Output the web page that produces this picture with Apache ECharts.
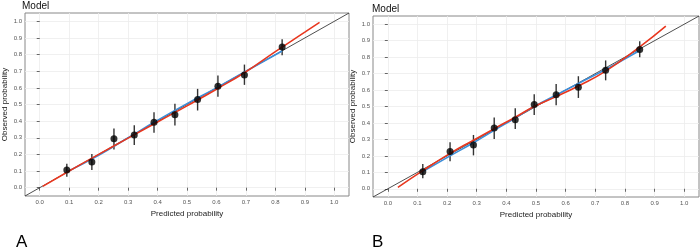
<!DOCTYPE html>
<html>
<head>
<meta charset="utf-8">
<script src="https://cdn.jsdelivr.net/npm/echarts@6/dist/echarts.min.js"></script>
<style>
html,body{margin:0;padding:0;background:#fff;}
#chart{width:700px;height:247px;}
</style>
</head>
<body>
<div id="chart"></div>
<script>
// 刻度
var tickVals = [0, 0.1, 0.2, 0.3, 0.4, 0.5, 0.6, 0.7, 0.8, 0.9, 1.0];

// 面板A：分组点、置信区间
var predA = [0.092, 0.177, 0.252, 0.321, 0.388, 0.459, 0.536, 0.605, 0.695, 0.823];
var obsA  = [0.106, 0.154, 0.294, 0.316, 0.394, 0.438, 0.530, 0.610, 0.678, 0.846];
var loA   = [0.066, 0.106, 0.230, 0.256, 0.330, 0.374, 0.464, 0.546, 0.618, 0.796];
var hiA   = [0.144, 0.202, 0.356, 0.376, 0.454, 0.504, 0.594, 0.674, 0.740, 0.892];
// 面板A：蓝线、红线
var blueAx = [0.092, 0.2, 0.3, 0.4, 0.5, 0.6, 0.7, 0.823];
var blueAy = [0.095, 0.195, 0.3, 0.405, 0.505, 0.6, 0.7, 0.822];
var redAx  = [0.01, 0.1, 0.2, 0.3, 0.4, 0.5, 0.6, 0.7, 0.8, 0.9, 0.95];
var redAy  = [0.008, 0.1, 0.2, 0.298, 0.395, 0.492, 0.592, 0.697, 0.818, 0.935, 0.994];

// 面板B
var predB = [0.118, 0.210, 0.289, 0.359, 0.430, 0.494, 0.568, 0.643, 0.735, 0.850];
var obsB  = [0.103, 0.226, 0.266, 0.369, 0.420, 0.512, 0.572, 0.617, 0.720, 0.847];
var loB   = [0.064, 0.167, 0.203, 0.302, 0.363, 0.448, 0.508, 0.552, 0.659, 0.799];
var hiB   = [0.151, 0.282, 0.327, 0.433, 0.490, 0.575, 0.637, 0.684, 0.780, 0.897];
var blueBx = [0.118, 0.21, 0.289, 0.359, 0.43, 0.494, 0.568, 0.643, 0.735, 0.85];
var blueBy = [0.105, 0.2, 0.28, 0.355, 0.43, 0.5, 0.57, 0.64, 0.725, 0.84];
var redBx  = [0.034, 0.118, 0.21, 0.289, 0.359, 0.43, 0.494, 0.568, 0.643, 0.735, 0.85, 0.938];
var redBy  = [0.008, 0.11, 0.215, 0.295, 0.365, 0.435, 0.5, 0.56, 0.625, 0.715, 0.862, 0.988];

function zip(a, b){
	var r = [];
	for (var i = 0; i < a.length; i++) r.push([a[i], b[i]]);
	return r;
}
function zip3(a, b, c){
	var r = [];
	for (var i = 0; i < a.length; i++) r.push([a[i], b[i], c[i]]);
	return r;
}

function axis(idx, name, gap){
	return {
		type: 'value', gridIndex: idx,
		min: -0.05, max: 1.05, interval: 0.05,
		name: name, nameLocation: 'middle', nameGap: gap,
		nameTextStyle: {color: '#222', fontSize: 8, fontFamily: 'Liberation Sans'},
		axisLine: {show: false},
		axisTick: {show: true, customValues: tickVals, length: 3, lineStyle: {color: '#444', width: 0.8}},
		axisLabel: {
			customValues: tickVals, fontSize: 6, color: '#555', margin: 3,
			fontFamily: 'Liberation Sans',
			formatter: function(v){ return v.toFixed(1); }
		},
		splitLine: {show: true, lineStyle: {color: '#ececec', width: 0.8}}
	};
}

function errBars(idx, data){
	return {
		type: 'custom', xAxisIndex: idx, yAxisIndex: idx, z: 3,
		data: data,
		renderItem: function(params, api){
			var p1 = api.coord([api.value(0), api.value(1)]);
			var p2 = api.coord([api.value(0), api.value(2)]);
			return {
				type: 'line',
				shape: {x1: p1[0], y1: p1[1], x2: p2[0], y2: p2[1]},
				style: {stroke: '#333', lineWidth: 1.4}
			};
		}
	};
}

function panel(idx, px, py, lo, hi, bx, by, rx, ry){
	return [
		{type: 'line', xAxisIndex: idx, yAxisIndex: idx, data: [[-0.05, -0.05], [1.05, 1.05]],
			symbol: 'none', lineStyle: {color: '#222', width: 0.8}, z: 2},
		errBars(idx, zip3(px, lo, hi)),
		{type: 'line', xAxisIndex: idx, yAxisIndex: idx, data: zip(bx, by), smooth: true,
			symbol: 'none', lineStyle: {color: '#3d8ed8', width: 1.6}, z: 4},
		{type: 'line', xAxisIndex: idx, yAxisIndex: idx, data: zip(rx, ry), smooth: true,
			symbol: 'none', lineStyle: {color: '#e8371f', width: 1.6}, z: 5},
		{type: 'scatter', xAxisIndex: idx, yAxisIndex: idx, data: zip(px, py),
			symbolSize: 7, itemStyle: {color: '#000'}, z: 6}
	];
}

var myChart = echarts.init(document.getElementById('chart'), null, {renderer: 'canvas'});

var tStyle = {fontSize: 10, fontWeight: 'normal', color: '#111', fontFamily: 'Liberation Sans'};
var option = {
	animation: false,
	backgroundColor: '#fff',
	title: [
		{text: 'Model', left: 22, top: 1, padding: 0, textStyle: tStyle},
		{text: 'Model', left: 372, top: 4, padding: 0, textStyle: tStyle},
		{text: 'A', left: 11, top: 229, textStyle: {fontSize: 17, fontWeight: 'normal', color: '#000', fontFamily: 'Liberation Sans'}},
		{text: 'B', left: 367, top: 229, textStyle: {fontSize: 17, fontWeight: 'normal', color: '#000', fontFamily: 'Liberation Sans'}}
	],
	grid: [
		{left: 23, top: 13, width: 326, height: 183, show: true, borderColor: '#888', borderWidth: 1, backgroundColor: 'transparent'},
		{left: 373, top: 16, width: 326, height: 181, show: true, borderColor: '#888', borderWidth: 1, backgroundColor: 'transparent'}
	],
	xAxis: [
		axis(0, 'Predicted probability', 12),
		axis(1, 'Predicted probability', 12)
	],
	yAxis: [
		axis(0, 'Observed probability', 16),
		axis(1, 'Observed probability', 16)
	],
	series: panel(0, predA, obsA, loA, hiA, blueAx, blueAy, redAx, redAy)
		.concat(panel(1, predB, obsB, loB, hiB, blueBx, blueBy, redBx, redBy))
};
myChart.setOption(option);
</script>
</body>
</html>
